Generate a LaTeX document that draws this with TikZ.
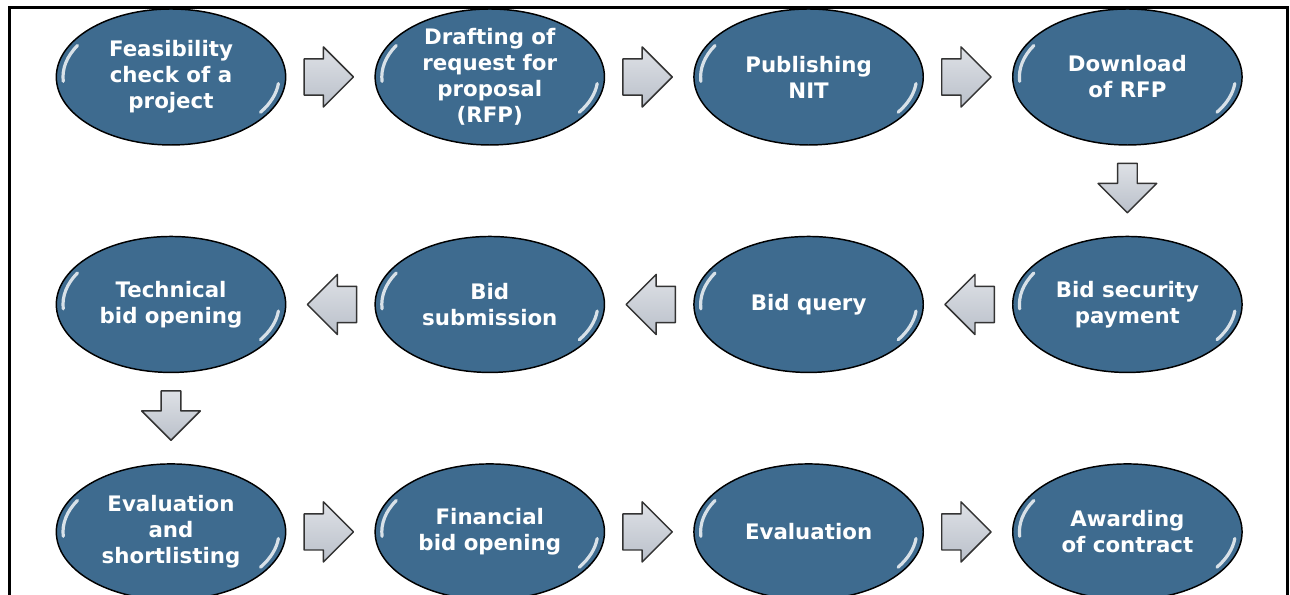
\documentclass[tikz,border=0pt]{standalone}
\usepackage{fontspec}
\setmainfont{DejaVu Sans}
\usepackage{tikz}
\usetikzlibrary{shapes.geometric, shapes.arrows, positioning, calc}
\definecolor{ovalblue}{RGB}{62,107,143}
\definecolor{arrowgray}{RGB}{186,192,202}
\definecolor{arrowlight}{RGB}{222,225,230}
\pgfdeclareradialshading{ovalshade}{\pgfpoint{0bp}{0bp}}{color(0bp)=(ovalblue); color(40bp)=(ovalblue); color(47bp)=(ovalblue!88!white); color(50bp)=(ovalblue!70!white)}
\tikzset{
  oval/.style={ellipse, draw=black, line width=1.1pt, shading=ovalshade,
    minimum width=172pt, minimum height=102pt, inner sep=0pt, align=center,
    text=white, font=\fontsize{16pt}{19.5pt}\selectfont\bfseries},
  blockarrow/.style={single arrow, draw=black!80, line width=1.1pt, line join=round,
    top color=arrowlight, bottom color=arrowgray, inner xsep=4pt, inner ysep=13pt,
    minimum height=37pt, minimum width=44pt, single arrow head extend=9pt},
  glint/.style={white, line width=2.4pt, opacity=.8, line cap=round}
}
\begin{document}
\begin{tikzpicture}[x=0.75pt, y=0.75pt, node distance=67.5pt and 66pt] % 1 unit = 1 px
  \useasboundingbox (0,0) rectangle (1290,595);
  \clip (0,0) rectangle (1290,595);
  \draw[line width=2.25pt] (9.5,587.5) rectangle (1287.5,-20);
  % first row
  \node[oval] (e1) at (171,518) {Feasibility\\check of a\\project};
  \node[oval, inner ysep=-3pt, right=of e1] (e2) {Drafting of\\request for\\proposal\\(RFP)};
  \node[oval, right=of e2] (e3) {Publishing\\NIT};
  \node[oval, right=of e3] (e4) {Download\\of RFP};
  % second row
  \node[oval, below=of e4] (e5) {Bid security\\payment};
  \node[oval, left=of e5] (e6) {Bid query};
  \node[oval, left=of e6] (e7) {Bid\\submission};
  \node[oval, left=of e7] (e8) {Technical\\bid opening};
  % third row
  \node[oval, below=of e8] (e9) {Evaluation\\and\\shortlisting};
  \node[oval, right=of e9] (e10) {Financial\\bid opening};
  \node[oval, right=of e10] (e11) {Evaluation};
  \node[oval, right=of e11] (e12) {Awarding\\of contract};
  \foreach \n in {e1,e2,e3,e4,e5,e6,e7,e8,e9,e10,e11,e12}{
    \draw[glint] ([shift={(150:108 and 63)}]\n.center) arc[start angle=150, end angle=184, x radius=108, y radius=63];
    \draw[glint] ([shift={(-34:108 and 63)}]\n.center) arc[start angle=-34, end angle=-6, x radius=108, y radius=63];
  }
  % arrows between the ovals
  \node[blockarrow, right=12.75pt of e1, anchor=tail] (a1) {};
  \node[blockarrow, right=12.75pt of e2, anchor=tail] (a2) {};
  \node[blockarrow, right=12.75pt of e3, anchor=tail] (a3) {};
  \node[blockarrow, shape border rotate=270, below=12.75pt of e4, anchor=tail] (a4) {};
  \node[blockarrow, shape border rotate=180, left=12.75pt of e5, anchor=tail] (a5) {};
  \node[blockarrow, shape border rotate=180, left=12.75pt of e6, anchor=tail] (a6) {};
  \node[blockarrow, shape border rotate=180, left=12.75pt of e7, anchor=tail] (a7) {};
  \node[blockarrow, shape border rotate=270, below=12.75pt of e8, anchor=tail] (a8) {};
  \node[blockarrow, right=12.75pt of e9, anchor=tail] (a9) {};
  \node[blockarrow, right=12.75pt of e10, anchor=tail] (a10) {};
  \node[blockarrow, right=12.75pt of e11, anchor=tail] (a11) {};
\end{tikzpicture}
\end{document}
